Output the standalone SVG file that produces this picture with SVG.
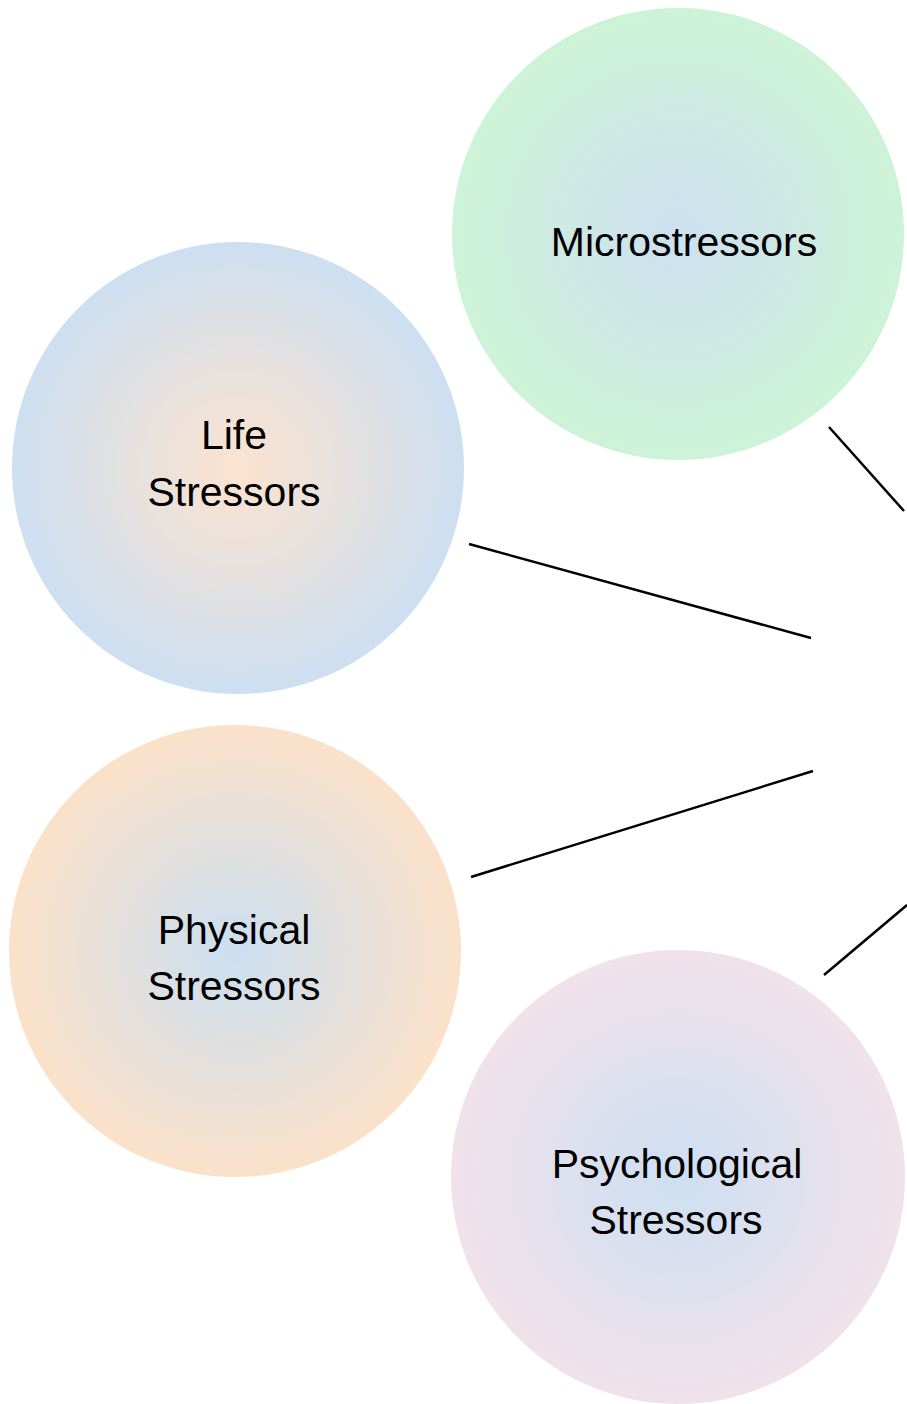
<svg xmlns="http://www.w3.org/2000/svg" width="907" height="1404" viewBox="0 0 907 1404">
<defs>
<radialGradient id="gMicro"><stop offset="0" stop-color="#cde0f0"/><stop offset="1" stop-color="#cdf3d7"/></radialGradient>
<radialGradient id="gLife"><stop offset="0" stop-color="#fce3cf"/><stop offset="1" stop-color="#cddff1"/></radialGradient>
<radialGradient id="gPhys"><stop offset="0" stop-color="#cbdff1"/><stop offset="1" stop-color="#fbe1c9"/></radialGradient>
<radialGradient id="gPsych"><stop offset="0" stop-color="#cddff2"/><stop offset="1" stop-color="#f1e2ea"/></radialGradient>
<style>
.lbl{font-family:"Liberation Sans",Arial,sans-serif;font-size:41px;fill:#000;text-anchor:middle}
.conn{stroke:#000;stroke-width:2.5;fill:none}
</style>
</defs>
<rect width="907" height="1404" fill="#fff"/>
<g id="connectors">
<line class="conn" x1="829" y1="427" x2="904" y2="511"/>
<line class="conn" x1="469" y1="544" x2="811" y2="638"/>
<line class="conn" x1="471" y1="877" x2="813" y2="771"/>
<line class="conn" x1="824" y1="975" x2="907" y2="905"/>
</g>
<g id="microstressors">
<circle cx="678" cy="234" r="226" fill="url(#gMicro)"/>
<text class="lbl" x="684" y="256">Microstressors</text>
</g>
<g id="life-stressors">
<circle cx="238" cy="468" r="226" fill="url(#gLife)"/>
<text class="lbl" x="234" y="449">Life</text>
<text class="lbl" x="234" y="506">Stressors</text>
</g>
<g id="physical-stressors">
<circle cx="235" cy="951" r="226" fill="url(#gPhys)"/>
<text class="lbl" x="234" y="944">Physical</text>
<text class="lbl" x="234" y="1000">Stressors</text>
</g>
<g id="psychological-stressors">
<circle cx="678" cy="1177" r="227" fill="url(#gPsych)"/>
<text class="lbl" x="677" y="1178">Psychological</text>
<text class="lbl" x="676" y="1234">Stressors</text>
</g>
</svg>
